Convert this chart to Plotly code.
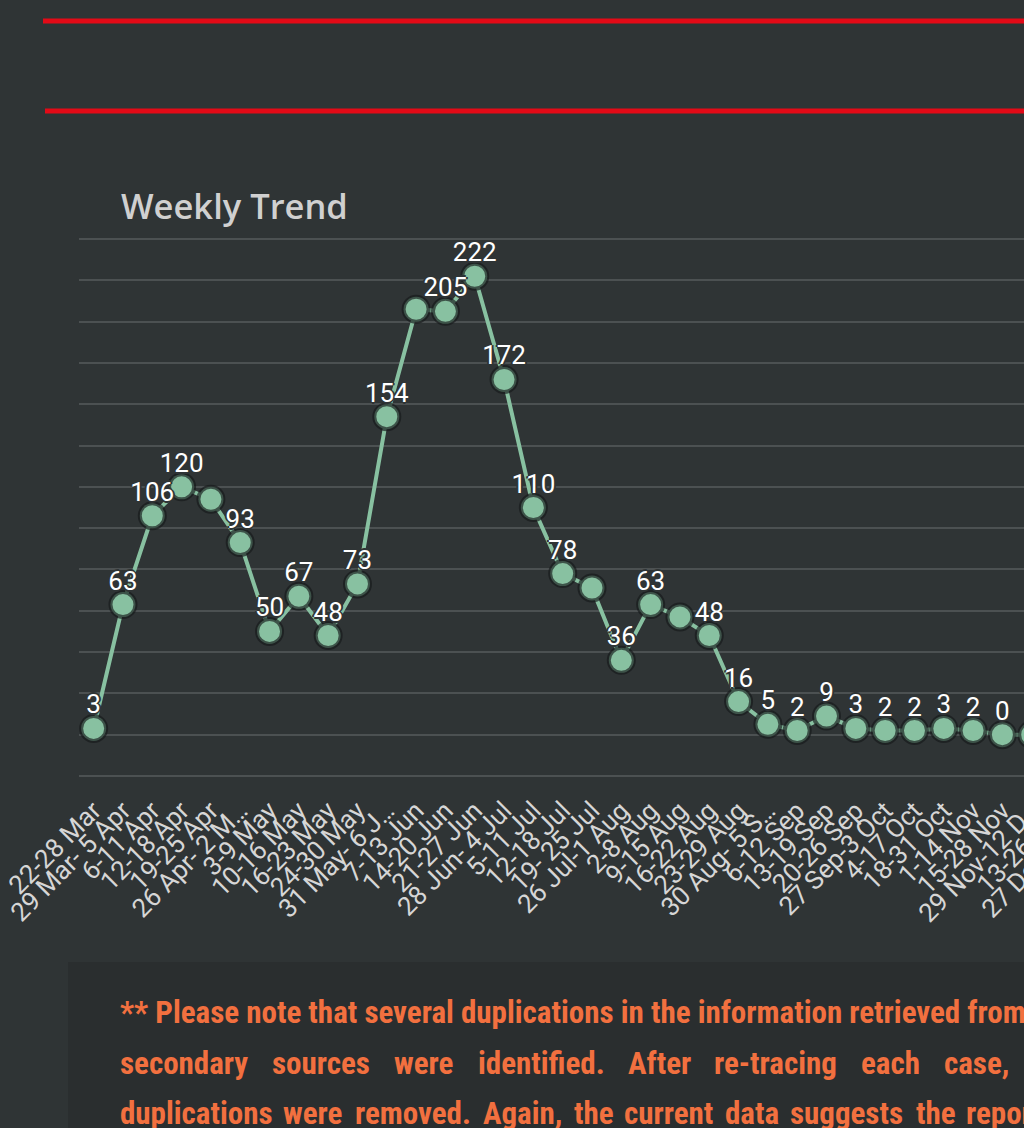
import plotly.graph_objects as go

# ---------------- data ----------------
weeks = [
    "22-28 Mar", "29 Mar- 5 Apr", "6-11 Apr", "12-18 Apr", "19-25 Apr",
    "26 Apr- 2 M…", "3-9 May", "10-16 May", "16-23 May", "24-30 May",
    "31 May- 6 J…", "7-13 Jun", "14-20 Jun", "21-27 Jun", "28 Jun- 4 Jul",
    "5-11 Jul", "12-18 Jul", "19- 25 Jul", "26 Jul-1 Aug", "2-8 Aug",
    "9-15 Aug", "16-22 Aug", "23-29 Aug", "30 Aug- 5 S…", "6-12 Sep",
    "13-19 Sep", "20-26 Sep", "27 Sep-3 Oct", "4-17 Oct", "18-31 Oct",
    "1-14 Nov", "15-28 Nov", "29 Nov-12 D…", "13-26 Dec", "27 Dec-2 Jan",
]
cases = [3, 63, 106, 120, 114, 93, 50, 67, 48, 73,
         154, 206, 205, 222, 172, 110, 78, 71, 36, 63,
         57, 48, 16, 5, 2, 9, 3, 2, 2, 3,
         2, 0, 0, 0, 0]
# value labels hidden in the original because they overlap neighbours
hidden_labels = [4, 11, 17, 20]

title_text = "Weekly Trend"
note_line1 = "** Please note that several duplications in the information retrieved from"
note_line2 = ["secondary", "sources", "were", "identified.", "After", "re-tracing",
              "each", "case,"]
note_line3 = ["duplications", "were", "removed.", "Again,", "the", "current", "data",
              "suggests", "the", "reported"]

# ---------------- layout geometry (pixels) ----------------
W, H = 1125, 1128
ML, MR, MT, MB = 79, 20, 237, 350
PW = W - ML - MR
PH = H - MT - MB


def px(x):
    return (x - ML) / PW


def py(y):
    return 1 - (y - MT) / PH


BG = "#2f3435"
PANEL = "#2a2e2f"
GREEN = "#88c1a1"
RED = "#e30a17"
ORANGE = "#f2703f"
NOTE_FONT = dict(family="Liberation Sans Narrow, Roboto Condensed, Arial Narrow, Roboto",
                 size=31, color=ORANGE, weight="bold")

labels = ["" if i in hidden_labels else str(v) for i, v in enumerate(cases)]

fig = go.Figure()
fig.add_trace(go.Scatter(
    x=weeks, y=cases, mode="lines+markers",
    line=dict(color=GREEN, width=4),
    marker=dict(size=25, color=GREEN, line=dict(color="rgba(22,25,26,0.65)", width=4)),
    hoverinfo="x+y", showlegend=False,
))
fig.add_trace(go.Scatter(
    x=weeks, y=cases, mode="markers+text",
    text=labels, textposition="top center", cliponaxis=False,
    textfont=dict(family="Roboto", size=26, color="#ffffff",
                  shadow="2px 0 0 %s, -2px 0 0 %s, 0 2px 0 %s, 0 -2px 0 %s" % (BG, BG, BG, BG)),
    marker=dict(size=12, color="rgba(0,0,0,0)"),
    hoverinfo="skip", showlegend=False,
))

shapes = [
    dict(type="line", xref="paper", yref="paper", x0=px(43), x1=px(1300),
         y0=py(21), y1=py(21), line=dict(color=RED, width=5)),
    dict(type="line", xref="paper", yref="paper", x0=px(45), x1=px(1300),
         y0=py(111), y1=py(111), line=dict(color=RED, width=5)),
    dict(type="rect", xref="paper", yref="paper", x0=px(68), x1=px(1300),
         y0=py(1300), y1=py(962), fillcolor=PANEL, line=dict(width=0), layer="below"),
]

annotations = [
    dict(text=title_text, xref="paper", yref="paper", x=px(119), y=py(206),
         xanchor="left", yanchor="middle", showarrow=False,
         font=dict(family="Open Sans", size=34.5, color="#d0d0d0", weight=600)),
    dict(text=note_line1, xref="paper", yref="paper", x=px(118), y=py(1012),
         xanchor="left", yanchor="middle", showarrow=False, font=NOTE_FONT),
]

# justified lines: word start positions (pixels)
line2_x = [120, 272, 394, 478, 628, 714, 861, 944]
line3_x = [120, 283, 355, 483, 574, 624, 725, 790, 916, 966]
for words, xs, ym in [(note_line2, line2_x, 1063), (note_line3, line3_x, 1113)]:
    for w, xw in zip(words, xs):
        annotations.append(dict(
            text=w, xref="paper", yref="paper", x=px(xw - 2), y=py(ym),
            xanchor="left", yanchor="middle", showarrow=False, font=NOTE_FONT,
        ))

fig.update_layout(
    width=W, height=H,
    margin=dict(l=ML, r=MR, t=MT, b=MB, pad=0, autoexpand=False),
    paper_bgcolor=BG, plot_bgcolor=BG,
    shapes=shapes, annotations=annotations,
    xaxis=dict(type="category", range=[-0.5, len(weeks) - 0.5],
               tickmode="linear", tick0=0, dtick=1, automargin=False,
               tickangle=-45, tickfont=dict(family="Roboto", size=26, color="#d6d6d6"),
               showgrid=False, zeroline=False, showline=False,
               ticks="outside", ticklen=6, tickcolor=BG,
               fixedrange=True),
    yaxis=dict(range=[-21, 241], dtick=20, tick0=0, showticklabels=False,
               automargin=False,
               gridcolor="#4c5152", gridwidth=2, zeroline=False, showline=False,
               fixedrange=True),
)

fig.write_html(
    "out.html",
    config=dict(displayModeBar=False),
    post_script="document.body.style.margin='0';document.body.style.background='%s';"
                "document.body.style.overflow='hidden';" % BG,
)
